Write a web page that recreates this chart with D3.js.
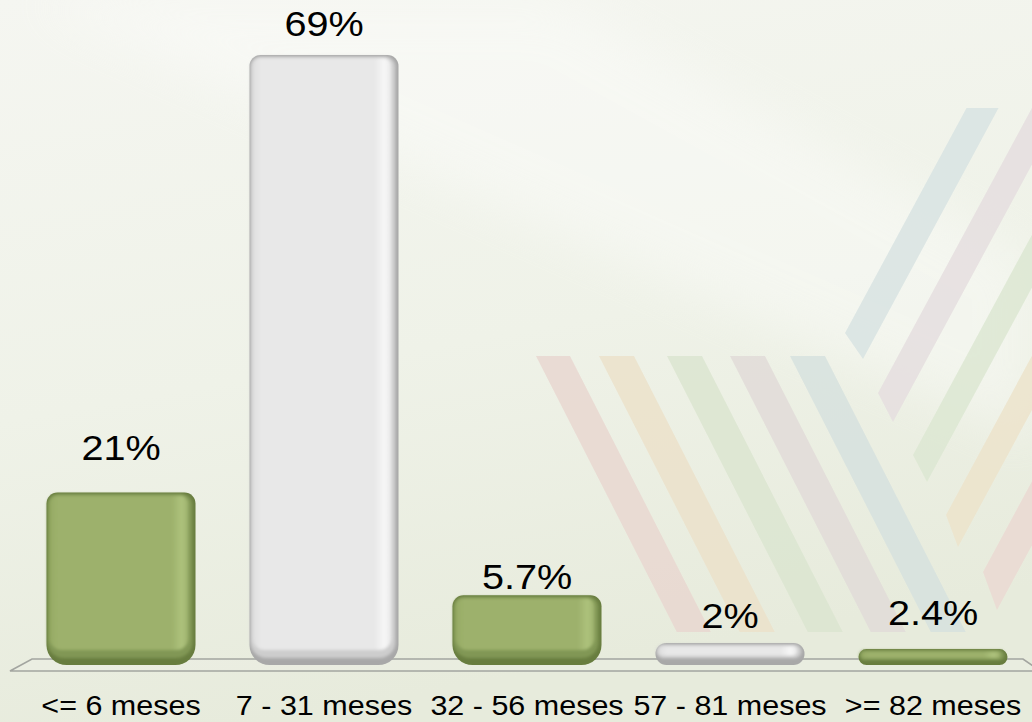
<!DOCTYPE html>
<html><head><meta charset="utf-8">
<script src="https://cdn.jsdelivr.net/npm/d3@7"></script>
<style>html,body{margin:0;padding:0;overflow:hidden;background:#eef0e6}</style>
</head><body><svg id="c" width="1032" height="722"></svg>
<script>
// ---- data ----
const categories = ["<= 6 meses", "7 - 31 meses", "32 - 56 meses", "57 - 81 meses", ">= 82 meses"];
const barHeights = [19.5, 69, 7.9, 2.5, 1.8];      // bar heights as drawn (%)
const labelValues = [21, 69, 5.7, 2, 2.4];          // printed values (%)
const valueLabels = ["21%", "69%", "5.7%", "2%", "2.4%"];
const barStyles = ["green", "white", "green", "white", "green"];

// decorative background stripes
const descStripes = [
  {c:"#e9d8d1", x0:536, x1:570},
  {c:"#ece2cb", x0:599, x1:634},
  {c:"#dce6d1", x0:667, x1:702},
  {c:"#e2dcd9", x0:730, x1:765},
  {c:"#d7e2df", x0:790, x1:825}
];
const ascStripes = [
  {c:"#d9e4e3", lx:845, ly:333, bx:863, by:359},
  {c:"#e6dfe0", lx:878, ly:393, bx:893, by:422},
  {c:"#dde8d3", lx:913, ly:455, bx:927, by:482},
  {c:"#ede4cc", lx:946, ly:515, bx:958, by:547},
  {c:"#ebdad3", lx:983, ly:572, bx:997, by:610}
];

const W = 1032, H = 722;
const svg = d3.select("#c");
const defs = svg.append("defs");

// background
const bg = defs.append("linearGradient").attr("id","bg").attr("x1",0).attr("y1",0).attr("x2",0.25).attr("y2",1);
bg.append("stop").attr("offset",0).attr("stop-color","#f5f6f1");
bg.append("stop").attr("offset",0.55).attr("stop-color","#eff2e8");
bg.append("stop").attr("offset",1).attr("stop-color","#e7ebdc");
svg.append("rect").attr("width",W).attr("height",H).attr("fill","url(#bg)");

const blurBig = defs.append("filter").attr("id","blurBig").attr("x","-20%").attr("y","-20%").attr("width","140%").attr("height","140%");
blurBig.append("feGaussianBlur").attr("stdDeviation",25);
svg.append("polygon").attr("points","30,0 560,0 1032,260 1032,440")
  .attr("fill","#ffffff").attr("opacity",0.35).attr("filter","url(#blurBig)");

// stripes
const sTop = 356, sBot = 632, slope = 0.51;
const gS = svg.append("g").attr("opacity",0.85);
descStripes.forEach(s => {
  const dx = slope*(sBot - sTop);
  gS.append("polygon").attr("points",
    `${s.x0},${sTop} ${s.x1},${sTop} ${s.x1+dx},${sBot} ${s.x0+dx},${sBot}`).attr("fill", s.c);
});
const aSlope = 0.54, aTop = 108;
ascStripes.forEach(s => {
  const tl = s.lx + aSlope*(s.ly - aTop), tr = s.bx + aSlope*(s.by - aTop);
  gS.append("polygon").attr("points",
    `${s.lx},${s.ly} ${tl},${aTop} ${tr},${aTop} ${s.bx},${s.by}`).attr("fill", s.c);
});

// scales
const x = d3.scaleBand().domain(categories).range([19.5, 1034.5]).paddingInner(0.266).paddingOuter(0.133);
const y = d3.scaleLinear().domain([0, 69]).range([665, 55]);

// floor
svg.append("polygon").attr("points","10,671 32,659 1023,659 1040,671")
  .attr("fill","#eef1e6").attr("fill-opacity",0.4)
  .attr("stroke","#a3a5a0").attr("stroke-width",1.6);

// bar filters/gradients
const blur = defs.append("filter").attr("id","soft").attr("x","-10%").attr("y","-30%").attr("width","120%").attr("height","160%");
blur.append("feGaussianBlur").attr("stdDeviation",1.6);

const pal = {
  green: {dark:"#687d3f", edge:"#819755", face:"#9db16c", faceL:"#95aa63", rim:"#adc27c", hi:"#b7c98a"},
  white: {dark:"#a8a8a8", edge:"#cdcdcd", face:"#e8e8e8", faceL:"#dedede", rim:"#f7f7f7", hi:"#f8f8f8"}
};
Object.entries(pal).forEach(([k,p]) => {
  const g = defs.append("linearGradient").attr("id","face-"+k).attr("x1",0).attr("x2",1).attr("y1",0).attr("y2",0);
  g.append("stop").attr("offset",0).attr("stop-color",p.faceL);
  g.append("stop").attr("offset",0.06).attr("stop-color",p.face);
  g.append("stop").attr("offset",0.88).attr("stop-color",p.face);
  g.append("stop").attr("offset",0.95).attr("stop-color",p.rim);
  g.append("stop").attr("offset",1).attr("stop-color",p.face);
});

function barPath(x0, y0, w, h, rt, rb) {
  rt = Math.min(rt, h/2, w/2); rb = Math.min(rb, h/2, w/2);
  if (rt + rb > h) { const k = h/(rt+rb); rt *= k; rb *= k; }
  return `M${x0},${y0+rt} A${rt},${rt} 0 0 1 ${x0+rt},${y0} H${x0+w-rt} A${rt},${rt} 0 0 1 ${x0+w},${y0+rt} V${y0+h-rb} A${rb},${rb} 0 0 1 ${x0+w-rb},${y0+h} H${x0+rb} A${rb},${rb} 0 0 1 ${x0},${y0+h-rb} Z`;
}

const bars = svg.append("g");
categories.forEach((c, i) => {
  const p = pal[barStyles[i]];
  const bx = x(c), bw = x.bandwidth();
  const by = y(barHeights[i]), bh = y(0) - by;
  const g = bars.append("g");
  g.append("path").attr("d", barPath(bx, by, bw, bh, 11, 20)).attr("fill", p.dark);
  const i1 = Math.min(1.5, bh*0.08), b1 = Math.min(7, bh*0.3);
  g.append("path").attr("d", barPath(bx+1, by+i1, bw-4, bh-i1-b1, 10, 16))
    .attr("fill", p.edge).attr("filter","url(#soft)");
  const it = Math.min(3, bh*0.15), ib = Math.min(15, bh*0.42);
  g.append("path").attr("d", barPath(bx+3, by+it, bw-10, bh-it-ib, 8, 12))
    .attr("fill", `url(#face-${barStyles[i]})`).attr("filter","url(#soft)");
  if (bh > 30) {
    g.append("path").attr("d", `M${bx+9},${by+3} H${bx+bw-12}`)
      .attr("stroke", p.hi).attr("stroke-width", 2.2).attr("filter","url(#soft)").attr("opacity",0.9);
  } else {
    g.append("path").attr("d", `M${bx+10},${by+bh*0.4} H${bx+bw-14}`)
      .attr("stroke", p.hi).attr("stroke-width", Math.max(2, bh*0.25)).attr("filter","url(#soft)").attr("opacity",0.9);
  }
});

// value labels
svg.append("g").selectAll("text").data(categories).join("text")
  .attr("transform", (c,i) => {
    const ly = Math.min(y(labelValues[i]) - 19, y(barHeights[i]) - 6);
    return `translate(${x(c)+x.bandwidth()/2},${ly}) scale(1.1,1)`;
  })
  .attr("text-anchor","middle")
  .attr("font-family","Arial, 'Liberation Sans', sans-serif")
  .attr("font-size",36).attr("fill","#000")
  .text((c,i) => valueLabels[i]);

// category labels
svg.append("g").selectAll("text").data(categories).join("text")
  .attr("transform", c => `translate(${x(c)+x.bandwidth()/2},715) scale(1.13,1)`)
  .attr("text-anchor","middle")
  .attr("font-family","Arial, 'Liberation Sans', sans-serif")
  .attr("font-size",27).attr("fill","#000")
  .text(c => c);
</script></body></html>
